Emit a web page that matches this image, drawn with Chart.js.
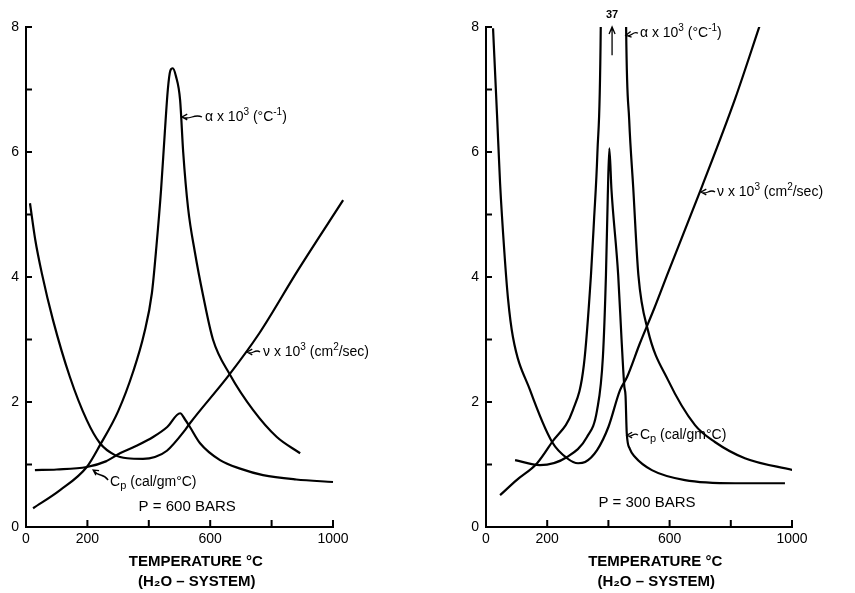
<!DOCTYPE html>
<html>
<head>
<meta charset="utf-8">
<title>H2O system: alpha, nu, Cp vs temperature</title>
<script src="https://cdn.jsdelivr.net/npm/chart.js@4.4.0/dist/chart.umd.min.js"></script>
<style>
  body { margin: 0; background: #fff; }
  #left { position: absolute; left: 0; top: 0; width: 430px; height: 593px; }
  #right { position: absolute; left: 430px; top: 0; width: 425px; height: 593px; }
</style>
</head>
<body>
<div id="left"><canvas id="chart600"></canvas></div>
<div id="right"><canvas id="chart300"></canvas></div>
<script>
// P = 600 bars
var nuT600 = [13, 30, 52, 88, 143, 198, 241, 290, 330, 381, 420, 459, 518, 534, 661, 760, 886, 1033];
var nu600 = [5.18, 4.6, 4.05, 3.31, 2.40, 1.71, 1.34, 1.15, 1.10, 1.09, 1.12, 1.22, 1.55, 1.66, 2.43, 3.1, 4.11, 5.23];
var alphaT600 = [23, 111, 198, 241, 300, 350, 385, 410, 425, 440, 452, 462, 470, 478, 488, 502, 512, 528, 550, 577, 609, 664, 740, 817, 893];
var alpha600 = [0.30, 0.59, 0.96, 1.31, 1.85, 2.5, 3.1, 3.74, 4.5, 5.4, 6.3, 7.0, 7.3, 7.34, 7.22, 6.83, 6.0, 5.1, 4.4, 3.7, 3.0, 2.44, 1.87, 1.44, 1.18];
var cpT600 = [29, 100, 198, 260, 306, 360, 414, 460, 502, 518, 534, 567, 632, 700, 772, 880, 1000];
var cp600 = [0.91, 0.92, 0.96, 1.05, 1.18, 1.3, 1.44, 1.6, 1.82, 1.72, 1.6, 1.34, 1.07, 0.93, 0.83, 0.76, 0.72];

// P = 300 bars
var nuT300 = [23, 36, 46, 60, 72, 88, 144, 216, 265, 301, 324, 363, 400, 438, 461, 503, 550, 595, 706, 814, 895];
var nu300 = [7.98, 6.6, 5.5, 4.4, 3.65, 3.04, 2.19, 1.36, 1.10, 1.02, 1.04, 1.23, 1.6, 2.19, 2.40, 2.94, 3.5, 4.07, 5.45, 6.85, 8.03];
var alphaT300 = [46, 100, 167, 216, 284, 320, 343, 353, 364, 375, 412, 458, 468, 481, 498, 529, 595, 683, 748, 846, 1003];
var alpha300 = [0.51, 0.75, 1.02, 1.36, 1.87, 2.6, 4.03, 4.91, 5.98, 8.0, 37, 7.95, 6.51, 5.44, 4.03, 3.15, 2.35, 1.63, 1.36, 1.10, 0.91];
var cpT300 = [95, 176, 265, 330, 363, 382, 392, 398, 403, 410, 432, 443, 452, 456, 460, 470, 487, 542, 650, 814, 977];
var cp300 = [1.07, 0.99, 1.12, 1.44, 1.87, 2.72, 4.03, 5.3, 6.06, 5.4, 4.03, 3.0, 2.25, 2.1, 1.5, 1.25, 1.12, 0.91, 0.75, 0.70, 0.70];

var xTicks = [200, 400, 600, 800, 1000];
var xLabels = [0, 200, 600, 1000];
var yTicks = [0, 1, 2, 3, 4, 5, 6, 7, 8];

var FONT = '"Liberation Sans", Arial, sans-serif';

function pts(xs, ys) {
  return xs.map(function (x, i) { return { x: x, y: ys[i] }; });
}

function curve(xs, ys, noClip) {
  var ds = {
    data: pts(xs, ys),
    borderColor: '#000',
    borderWidth: 2.2,
    pointRadius: 0,
    cubicInterpolationMode: 'monotone',
    fill: false
  };
  if (noClip) ds.clip = false;
  return ds;
}

// text made of pieces: [text, dy, scale]
function rich(ctx, x, y, parts, size) {
  ctx.textAlign = 'left';
  ctx.textBaseline = 'middle';
  parts.forEach(function (p) {
    ctx.font = Math.round(size * (p[2] || 1)) + 'px ' + FONT;
    ctx.fillText(p[0], x, y + (p[1] || 0));
    x += ctx.measureText(p[0]).width;
  });
}

// small wavy leader with arrow head at the curve end
function pointer(ctx, x, y, dx, dy) {
  var tx = x + dx, ty = y + dy;
  var ang = Math.atan2(ty - y, tx - x);
  ctx.beginPath();
  ctx.moveTo(x, y);
  ctx.bezierCurveTo(x + dx * 0.4, y + dy * 0.4 - 4, x + dx * 0.6, y + dy * 0.6 + 4, tx, ty);
  ctx.moveTo(tx - 6 * Math.cos(ang - 0.5), ty - 6 * Math.sin(ang - 0.5));
  ctx.lineTo(tx, ty);
  ctx.lineTo(tx - 6 * Math.cos(ang + 0.5), ty - 6 * Math.sin(ang + 0.5));
  ctx.stroke();
}

function alphaText(ctx, x, y) {
  rich(ctx, x, y, [['\u03b1 x 10'], ['3', -5, 0.72], [' (\u00b0C'], ['-1', -5, 0.72], [')']], 14);
}
function nuText(ctx, x, y) {
  rich(ctx, x, y, [['\u03bd x 10'], ['3', -5, 0.72], [' (cm'], ['2', -5, 0.72], ['/sec)']], 14);
}
function cpText(ctx, x, y) {
  rich(ctx, x, y, [['C'], ['p', 4, 0.75], [' (cal/gm\u00b0C)']], 14);
}

function makePanel(id, datasets, pad, notes) {
  var decor = {
    id: 'decor',
    afterDraw: function (chart) {
      var ctx = chart.ctx, xs = chart.scales.x, ys = chart.scales.y;
      ctx.save();
      ctx.strokeStyle = '#000';
      ctx.fillStyle = '#000';
      ctx.lineWidth = 2;
      // tick marks pointing into the plot
      ctx.beginPath();
      yTicks.forEach(function (v) {
        var p = ys.getPixelForValue(v);
        ctx.moveTo(xs.left, p);
        ctx.lineTo(xs.left + 6, p);
      });
      xTicks.forEach(function (v) {
        var p = xs.getPixelForValue(v);
        ctx.moveTo(p, ys.bottom);
        ctx.lineTo(p, ys.bottom - 7);
      });
      ctx.stroke();
      // axis title
      ctx.textAlign = 'center';
      ctx.textBaseline = 'middle';
      ctx.font = 'bold 15px ' + FONT;
      ctx.fillText('TEMPERATURE \u00b0C', xs.getPixelForValue(553), ys.bottom + 35);
      ctx.fillText('(H\u2082O \u2013 SYSTEM)', xs.getPixelForValue(556), ys.bottom + 55);
      ctx.lineWidth = 1.3;
      notes(ctx, xs, ys);
      ctx.restore();
    }
  };
  return new Chart(document.getElementById(id), {
    type: 'line',
    data: { datasets: datasets },
    options: {
      responsive: true,
      maintainAspectRatio: false,
      animation: false,
      layout: { padding: pad },
      plugins: { legend: { display: false }, tooltip: { enabled: false } },
      scales: {
        x: {
          type: 'linear',
          min: 0,
          max: 1000,
          afterFit: function (s) { s.height = 66; },
          grid: { display: false, drawTicks: false },
          border: { display: true, color: '#000', width: 2 },
          ticks: {
            stepSize: 200,
            autoSkip: false,
            maxRotation: 0,
            padding: 4,
            color: '#000',
            font: { family: FONT, size: 14 },
            callback: function (v) { return xLabels.indexOf(v) >= 0 ? v : ''; }
          }
        },
        y: {
          min: 0,
          max: 8,
          afterFit: function (s) { s.width = 26; },
          grid: { display: false, drawTicks: false },
          border: { display: true, color: '#000', width: 2 },
          ticks: {
            stepSize: 2,
            padding: 7,
            color: '#000',
            font: { family: FONT, size: 14 }
          }
        }
      }
    },
    plugins: [decor]
  });
}

makePanel('chart600', [
  curve(nuT600, nu600, true),
  curve(alphaT600, alpha600, true),
  curve(cpT600, cp600, true)
], { left: 0, right: 97, top: 27, bottom: 0 }, function (ctx, xs, ys) {
  var x = xs.getPixelForValue(583), y = ys.getPixelForValue(6.56);
  alphaText(ctx, x, y);
  pointer(ctx, x - 3, y, -20, 0);
  x = xs.getPixelForValue(772); y = ys.getPixelForValue(2.8);
  nuText(ctx, x, y);
  pointer(ctx, x - 3, y, -13, 0);
  x = xs.getPixelForValue(274); y = ys.getPixelForValue(0.72);
  cpText(ctx, x, y);
  pointer(ctx, x - 2, y - 2, -15, -10);
  ctx.textAlign = 'center';
  ctx.font = '15px ' + FONT;
  ctx.fillText('P = 600 BARS', xs.getPixelForValue(525), ys.getPixelForValue(0.32));
});

makePanel('chart300', [
  curve(nuT300, nu300),
  curve(alphaT300, alpha300),
  curve(cpT300, cp300)
], { left: 30, right: 63, top: 27, bottom: 0 }, function (ctx, xs, ys) {
  var x = xs.getPixelForValue(412), y0 = ys.getPixelForValue(7.55), y1 = ys.getPixelForValue(8.0);
  ctx.beginPath();
  ctx.moveTo(x, y0); ctx.lineTo(x, y1);
  ctx.moveTo(x - 3, y1 + 7); ctx.lineTo(x, y1); ctx.lineTo(x + 3, y1 + 7);
  ctx.stroke();
  ctx.textAlign = 'center';
  ctx.textBaseline = 'middle';
  ctx.font = 'bold 11px ' + FONT;
  ctx.fillText('37', x, ys.getPixelForValue(8.19));
  x = xs.getPixelForValue(503); var y = ys.getPixelForValue(7.9);
  alphaText(ctx, x, y);
  pointer(ctx, x - 2, y, -12, 2);
  x = xs.getPixelForValue(755); y = ys.getPixelForValue(5.36);
  nuText(ctx, x, y);
  pointer(ctx, x - 2, y, -14, 0);
  x = xs.getPixelForValue(503); y = ys.getPixelForValue(1.47);
  cpText(ctx, x, y);
  pointer(ctx, x - 2, y, -11, 0);
  ctx.textAlign = 'center';
  ctx.font = '15px ' + FONT;
  ctx.fillText('P = 300 BARS', xs.getPixelForValue(526), ys.getPixelForValue(0.38));
});
</script>
</body>
</html>
